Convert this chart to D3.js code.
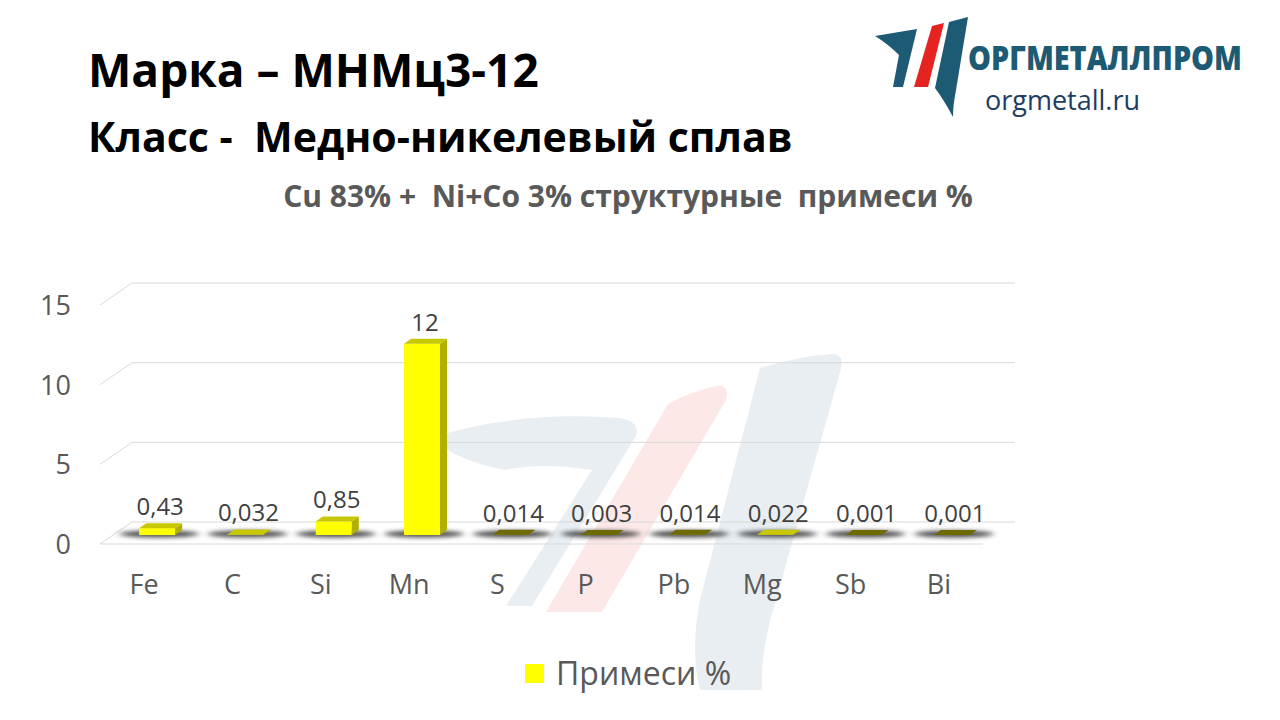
<!DOCTYPE html>
<html><head><meta charset="utf-8">
<script src="https://cdn.jsdelivr.net/npm/d3@7"></script>
<style>
html,body{margin:0;padding:0;background:#fff;}
svg{display:block;font-family:"Open Sans","Noto Sans",sans-serif;}
svg text{white-space:pre;}
</style></head>
<body><svg id="c" width="1280" height="720"></svg>
<script>
const categories = ["Fe","C","Si","Mn","S","P","Pb","Mg","Sb","Bi"];
const values = [0.43,0.032,0.85,12,0.014,0.003,0.014,0.022,0.001,0.001];
const valueLabels = ["0,43","0,032","0,85","12","0,014","0,003","0,014","0,022","0,001","0,001"];
const yTicks = [0,5,10,15];
const seriesName = "Примеси %";
const title1 = "Марка – МНМц3-12";
const title2 = "Класс -  Медно-никелевый сплав";
const subtitle = "Cu 83% +  Ni+Co 3% структурные  примеси %";

const svg = d3.select("#c");
const defs = svg.append("defs");
const f = defs.append("filter").attr("id","blur").attr("x","-50%").attr("y","-200%").attr("width","200%").attr("height","500%");
f.append("feGaussianBlur").attr("stdDeviation","3 2");

// watermark
const wm = svg.append("g");
wm.append("path").attr("d","M430,438 Q520,410 618,418 Q640,420 636,436 L532,606 L506,606 L592,470 Q540,462 505,470 Q460,462 430,438Z").attr("fill","#e8eef2");
wm.append("path").attr("d","M668,404 Q690,392 716,386 Q730,384 726,400 L602,612 L546,612Z").attr("fill","#fde8e8");
wm.append("path").attr("d","M760,368 Q800,356 832,354 Q846,354 840,372 L776,600 Q760,650 762,690 L700,690 Q690,650 700,600Z").attr("fill","#e8eef2");

// titles
svg.append("text").attr("x",88).attr("y",87).attr("font-size",46).attr("font-weight",700).attr("fill","#000").text(title1);
svg.append("text").attr("x",88).attr("y",152).attr("font-size",41).attr("font-weight",700).attr("fill","#000").text(title2);
svg.append("text").attr("x",628).attr("y",207).attr("text-anchor","middle").attr("font-size",30).attr("font-weight",700).attr("fill","#595959").text(subtitle);

// logo
const lg = svg.append("g");
lg.append("path").attr("d","M875,36 L917,29 L903,87 L893,87 L899,55 Q888,44 875,36Z").attr("fill","#1d5a73");
lg.append("path").attr("d","M932,26 L944,23 L928,87 L914,87Z").attr("fill","#e52421");
lg.append("path").attr("d","M949,22 L968,17 L956,90 Q953,105 953,117 Q944,100 935,88Z").attr("fill","#1d5a73");
lg.append("text").attr("x",968).attr("y",70).attr("font-size",33).attr("font-weight",800).attr("fill","#1d5a73")
  .attr("textLength",274).attr("lengthAdjust","spacingAndGlyphs").text("ОРГМЕТАЛЛПРОМ");
lg.append("text").attr("x",985).attr("y",110).attr("font-size",27).attr("fill","#1f3d60").text("orgmetall.ru");

// chart geometry
const x0 = 100, x1 = 983, dx = 32, dy = -22;
const y = d3.scaleLinear().domain([0,15]).range([544,305]);
const xb = d3.scaleBand().domain(categories).range([x0,x1]);

const grid = svg.append("g").attr("stroke","#d9d9d9").attr("stroke-width",1).attr("fill","none");
yTicks.forEach(t=>{
  grid.append("line").attr("x1",x0+dx).attr("x2",x1+dx).attr("y1",y(t)+dy).attr("y2",y(t)+dy);
  grid.append("line").attr("x1",x0).attr("x2",x0+dx).attr("y1",y(t)).attr("y2",y(t)+dy);
});
grid.append("line").attr("x1",x0).attr("x2",x1).attr("y1",y(0)).attr("y2",y(0));

svg.append("g").selectAll("text").data(yTicks).join("text")
  .attr("x",71).attr("y",t=>y(t)+10).attr("text-anchor","end").attr("font-size",27).attr("fill","#595959").text(t=>t);

svg.append("g").selectAll("text").data(categories).join("text")
  .attr("x",c=>xb(c)+xb.bandwidth()/2).attr("y",594).attr("text-anchor","middle").attr("font-size",27).attr("fill","#595959").text(c=>c);

// bars
const bw = 36, bdx = 7, bdy = -5;
const yb = v => y(v) - 9;
const cx = i => xb(categories[i]) + xb.bandwidth()/2 + 13;
const topColor = d3.scaleThreshold().domain([0.02]).range(["#6e6a00","#c8c800"]);

svg.append("g").selectAll("ellipse").data(values).join("ellipse")
  .attr("cx",(d,i)=>cx(i)+2).attr("cy",yb(0)-1).attr("rx",40).attr("ry",3.5)
  .attr("fill","#333").attr("opacity",0.85).attr("filter","url(#blur)");

const bars = svg.append("g").selectAll("g").data(values).join("g");
bars.append("rect").attr("x",(d,i)=>cx(i)-bw/2).attr("y",d=>yb(d)).attr("width",bw).attr("height",d=>Math.max(0,yb(0)-yb(d))).attr("fill","#ffff00");
bars.append("path").attr("d",(d,i)=>{const l=cx(i)-bw/2,r=l+bw,t=yb(d),b=yb(0);return `M${r},${t}L${r+bdx},${t+bdy}L${r+bdx},${b+bdy}L${r},${b}Z`;}).attr("fill","#b0b000");
bars.append("path").attr("d",(d,i)=>{const l=cx(i)-bw/2,r=l+bw,t=yb(d);return `M${l},${t}L${r},${t}L${r+bdx},${t+bdy}L${l+bdx},${t+bdy}Z`;}).attr("fill",d=>topColor(d));

svg.append("g").selectAll("text").data(values).join("text")
  .attr("x",(d,i)=>cx(i)+3).attr("y",d=>yb(d)-13).attr("text-anchor","middle").attr("font-size",24).attr("fill","#404040")
  .text((d,i)=>valueLabels[i]);

// legend
svg.append("rect").attr("x",525).attr("y",664).attr("width",19).attr("height",19).attr("fill","#ffff00");
svg.append("text").attr("x",556).attr("y",685).attr("font-size",32).attr("fill","#595959").text(seriesName);
</script></body></html>
